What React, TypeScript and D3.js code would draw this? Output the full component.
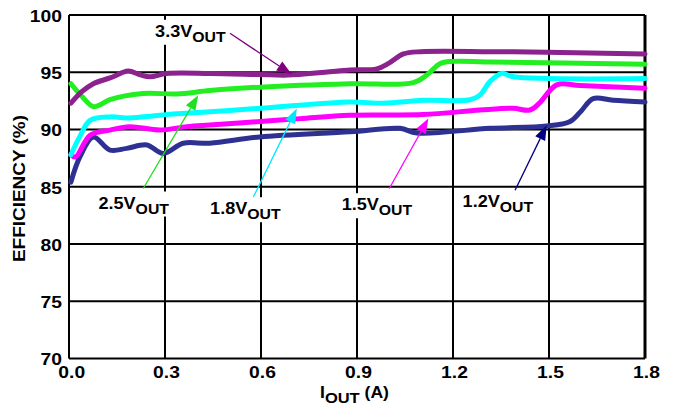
import React from "react";
import * as d3 from "d3";

// ---- data (I_OUT in A, efficiency in %) ----
const xTicks = [0, 0.3, 0.6, 0.9, 1.2, 1.5, 1.8];
const xTickLabels = ["0.0", "0.3", "0.6", "0.9", "1.2", "1.5", "1.8"];
const yTicks = [70, 75, 80, 85, 90, 95, 100];
const yTickLabels = ["70", "75", "80", "85", "90", "95", "100"];

const eff33: [number, number][] = [
  [0.006, 92.3], [0.04, 93.3], [0.076, 94.0], [0.128, 94.5], [0.185, 95.1], [0.22, 94.8],
  [0.253, 94.6], [0.305, 94.9], [0.44, 94.9], [0.597, 94.8], [0.684, 94.75], [0.8, 95.0],
  [0.878, 95.2], [0.962, 95.3], [1.0, 95.8], [1.045, 96.6], [1.1, 96.8], [1.316, 96.8],
  [1.493, 96.75], [1.8, 96.6],
];
const eff25: [number, number][] = [
  [0.006, 94.0], [0.04, 92.9], [0.076, 92.0], [0.1, 92.2], [0.128, 92.6], [0.232, 93.15],
  [0.337, 93.1], [0.44, 93.4], [0.597, 93.7], [0.878, 94.0], [1.076, 94.1], [1.12, 94.8],
  [1.159, 95.75], [1.2, 95.95], [1.316, 95.9], [1.8, 95.7],
];
const eff18: [number, number][] = [
  [0.006, 87.8], [0.034, 89.4], [0.066, 90.8], [0.128, 91.1], [0.19, 91.0], [0.284, 91.25],
  [0.44, 91.55], [0.597, 91.85], [0.878, 92.4], [0.982, 92.3], [1.107, 92.55], [1.253, 92.6],
  [1.284, 93.0], [1.316, 94.2], [1.352, 94.9], [1.39, 94.6], [1.8, 94.45],
];
const eff15: [number, number][] = [
  [0.006, 87.8], [0.02, 87.6], [0.066, 89.5], [0.128, 89.95], [0.19, 90.25], [0.284, 89.95],
  [0.368, 90.25], [0.44, 90.4], [0.597, 90.7], [0.722, 90.95], [0.878, 91.25], [1.107, 91.3],
  [1.284, 91.7], [1.388, 91.85], [1.44, 91.7], [1.47, 92.3], [1.524, 93.9], [1.597, 93.85],
  [1.8, 93.6],
];
const eff12: [number, number][] = [
  [0.006, 85.4], [0.034, 87.6], [0.076, 89.35], [0.128, 88.2], [0.18, 88.35], [0.243, 88.65],
  [0.295, 87.9], [0.357, 88.8], [0.44, 88.8], [0.597, 89.35], [0.878, 89.8], [1.034, 90.1],
  [1.087, 89.7], [1.316, 90.1], [1.493, 90.3], [1.566, 90.7], [1.6, 91.6], [1.638, 92.7],
  [1.7, 92.55], [1.8, 92.4],
];

const seriesNames = ["1.2V", "1.5V", "1.8V", "2.5V", "3.3V"];
const seriesData = [eff12, eff15, eff18, eff25, eff33];
const seriesColors = ["#2E3192", "#FF00FF", "#00FFFF", "#22EE22", "#8B228E"];
const arrowColors = ["#000080", "#FF00FF", "#00E8FF", "#22DD22", "#800080"];
// label anchor (text start x, baseline y) in data units
const labelPos: [number, number][] = [[1.23, 83.24], [0.852, 82.95], [0.441, 82.6], [0.092, 83.1], [0.269, 98.1]];
// arrow start and tip in data units
const arrowFrom: [number, number][] = [[1.394, 84.7], [1.001, 84.85], [0.576, 84.1], [0.232, 84.85], [0.503, 98.4]];
const arrowTo: [number, number][] = [[1.493, 90.38], [1.123, 90.97], [0.712, 91.84], [0.404, 93.0], [0.696, 94.82]];

const W = 675, H = 410;
const L = 69, R = 645, T = 15, B = 358.5;
const SX = 1.17;
const FONT = "'Liberation Sans', Arial, Helvetica, sans-serif";

function StretchText(props: { x: number; y: number; size: number; anchor?: string; rotate?: number; sx?: number; children: any }) {
  const { x, y, size, anchor = "start", rotate = 0, sx = SX, children } = props;
  return (
    <g transform={`translate(${x},${y}) rotate(${rotate}) scale(${sx},1)`}>
      <text fontFamily={FONT} fontWeight="bold" fontSize={size} textAnchor={anchor} fill="#000">
        {children}
      </text>
    </g>
  );
}

export default function App() {
  const x = d3.scaleLinear().domain([0, 1.8]).range([L, R]);
  const y = d3.scaleLinear().domain([70, 100]).range([B, T]);
  const line = d3
    .line<[number, number]>()
    .x((d) => x(d[0]))
    .y((d) => y(d[1]))
    .curve(d3.curveCatmullRom.alpha(0.5));

  const LSX = 1.13;
  const labelW = (2.057 * 16 + 2.111 * 14) * LSX;

  return (
    <svg width={W} height={H} style={{ position: "absolute", left: 0, top: 0, background: "#fff" }}>
      <rect x={0} y={0} width={W} height={H} fill="#fff" />
      {/* grid */}
      {xTicks.map((t, i) => (
        <line key={"gx" + i} x1={x(t)} x2={x(t)} y1={T} y2={B} stroke="#000" strokeWidth={i === xTicks.length - 1 ? 3 : 2} />
      ))}
      {yTicks.map((t, i) => (
        <line key={"gy" + i} x1={L} x2={R} y1={y(t)} y2={y(t)} stroke="#000" strokeWidth={2} />
      ))}
      {/* label boxes hide grid */}
      {labelPos.map((p, i) => (
        <rect key={"lb" + i} x={x(p[0]) - 2} y={y(p[1]) - 17} width={labelW + 4} height={25} fill="#fff" />
      ))}
      {/* curves */}
      {seriesData.map((s, i) => (
        <path key={"s" + i} d={line(s) || ""} fill="none" stroke={seriesColors[i]} strokeWidth={5} strokeLinecap="round" strokeLinejoin="round" />
      ))}
      {/* arrows */}
      {arrowFrom.map((a, i) => {
        const x1 = x(a[0]), y1 = y(a[1]);
        const x2 = x(arrowTo[i][0]), y2 = y(arrowTo[i][1]);
        const ang = Math.atan2(y2 - y1, x2 - x1);
        const hl = 15, hw = 5.5;
        const bx = x2 - hl * Math.cos(ang), by = y2 - hl * Math.sin(ang);
        const px = -Math.sin(ang) * hw, py = Math.cos(ang) * hw;
        const pts = `${x2},${y2} ${bx + px},${by + py} ${bx - px},${by - py}`;
        return (
          <g key={"a" + i}>
            <line x1={x1} y1={y1} x2={bx} y2={by} stroke={arrowColors[i]} strokeWidth={1.3} />
            <polygon points={pts} fill={arrowColors[i]} />
          </g>
        );
      })}
      {/* labels */}
      {labelPos.map((p, i) => (
        <StretchText key={"lt" + i} x={x(p[0])} y={y(p[1])} size={16} sx={LSX}>
          <tspan fontFamily={FONT} fontWeight="bold" fontSize={16}>{seriesNames[i]}</tspan>
          <tspan fontFamily={FONT} fontWeight="bold" fontSize={14} dy={5}>OUT</tspan>
        </StretchText>
      ))}
      {/* tick labels */}
      {yTicks.map((t, i) => (
        <StretchText key={"yl" + i} x={62} y={y(t) + (i === 0 ? 6.5 : 6.8)} size={16.5} anchor="end">
          {yTickLabels[i]}
        </StretchText>
      ))}
      {xTicks.map((t, i) => (
        <StretchText key={"xl" + i} x={x(t) + (i === 0 ? 2.7 : 1.5)} y={378.3} size={16.5} anchor="middle">
          {xTickLabels[i]}
        </StretchText>
      ))}
      {/* axis titles */}
      <StretchText x={320} y={398} size={16} sx={1.1}>
        I<tspan fontSize={15} dy={5}>OUT</tspan>
        <tspan fontSize={16} dy={-5}> (A)</tspan>
      </StretchText>
      <StretchText x={24.5} y={188.5} size={16.2} anchor="middle" rotate={-90}>
        EFFICIENCY (%)
      </StretchText>
    </svg>
  );
}
